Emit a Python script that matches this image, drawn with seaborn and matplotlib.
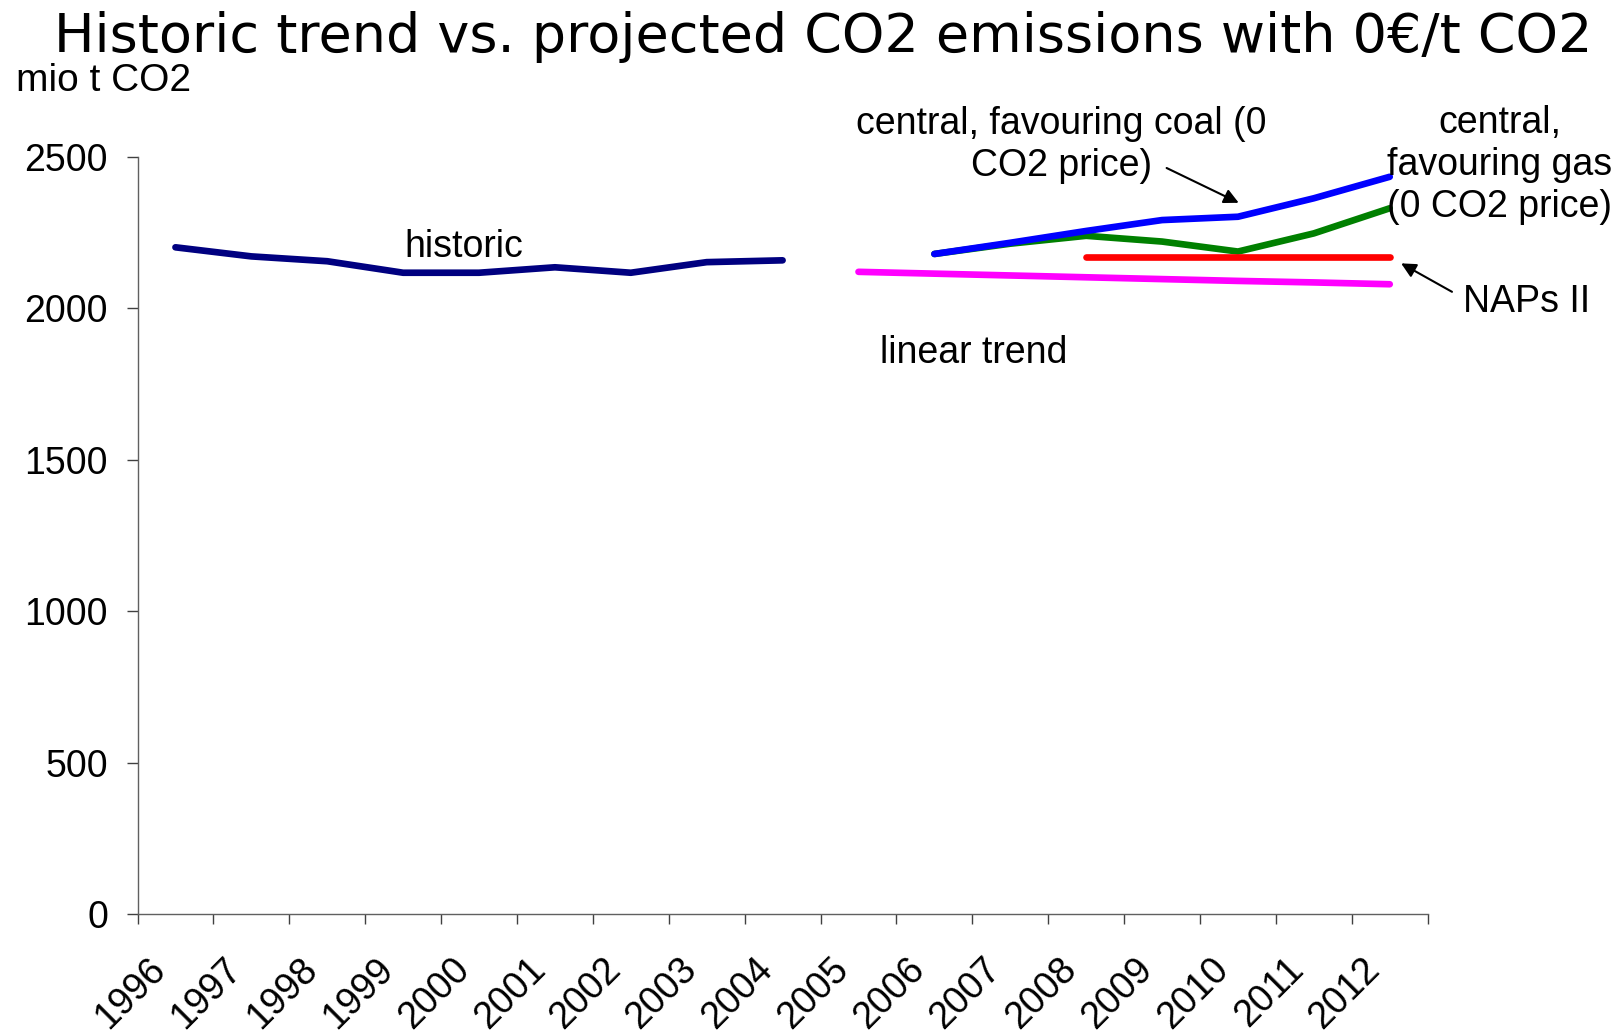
import numpy as np
import pandas as pd
import matplotlib
matplotlib.use("Agg")
import matplotlib.pyplot as plt
from matplotlib.transforms import ScaledTranslation
import seaborn as sns

# ---- data ----
years = list(range(1996, 2013))
year_labels = [str(y) for y in years]

hist_years = [1996, 1997, 1998, 1999, 2000, 2001, 2002, 2003, 2004]
hist_values = [2202, 2172, 2156, 2118, 2118, 2136, 2118, 2153, 2159]

trend_years = [2005, 2006, 2007, 2008, 2009, 2010, 2011, 2012]
trend_values = [2121, 2115, 2109, 2103, 2097, 2091, 2086, 2080]

coal_years = [2006, 2007, 2008, 2009, 2010, 2011, 2012]
coal_values = [2180, 2217, 2256, 2292, 2303, 2364, 2435]

gas_years = [2006, 2007, 2008, 2009, 2010, 2011, 2012]
gas_values = [2180, 2214, 2240, 2221, 2188, 2248, 2331]

nap_years = [2008, 2009, 2010, 2011, 2012]
nap_values = [2169, 2169, 2169, 2169, 2169]

series_names = ["historic", "linear trend", "gas", "coal", "NAPs II"]
series_colors = ["#000080", "#FF00FF", "#008000", "#0000FF", "#FF0000"]
y_ticks = [0, 500, 1000, 1500, 2000, 2500]

frames = []
for name, xs, vs in [("historic", hist_years, hist_values),
                     ("linear trend", trend_years, trend_values),
                     ("gas", gas_years, gas_values),
                     ("coal", coal_years, coal_values),
                     ("NAPs II", nap_years, nap_values)]:
    frames.append(pd.DataFrame({"year": xs, "value": vs, "series": name}))
df = pd.concat(frames, ignore_index=True)

# ---- style ----
sns.set_style("white")
plt.rcParams["font.family"] = ["Liberation Sans", "DejaVu Sans"]
plt.rcParams["text.color"] = "black"
plt.rcParams["xtick.color"] = "black"
plt.rcParams["ytick.color"] = "black"
plt.rcParams["axes.labelcolor"] = "black"

FS = 27
W, H, DPI = 1621, 1032, 100
fig = plt.figure(figsize=(W / DPI, H / DPI), dpi=DPI)
ax = fig.add_axes([137.5 / W, 1 - 913.9 / H, (1427.7 - 137.5) / W, (913.9 - 157.1) / H])

sns.lineplot(data=df, x="year", y="value", hue="series", hue_order=series_names,
             palette=series_colors, linewidth=4.8, estimator=None, legend=False,
             ax=ax, solid_capstyle="round")

ax.set_xlim(1995.5, 2012.5)
ax.set_ylim(0, 2500)
ax.set_xlabel("")
ax.set_ylabel("")

for s in ["top", "right"]:
    ax.spines[s].set_visible(False)
for s in ["left", "bottom"]:
    ax.spines[s].set_color("#606060")
    ax.spines[s].set_linewidth(1.0)

ax.set_yticks(y_ticks)
ax.set_yticklabels([str(v) for v in y_ticks], fontsize=FS)
ax.tick_params(axis="y", direction="out", length=7.7, width=1, color="#404040", pad=13.5, left=True)

# category boundaries as major ticks, labels at centers as minor ticks
ax.set_xticks([y - 0.5 for y in years] + [years[-1] + 0.5])
ax.set_xticklabels([])
ax.set_xticks(years, minor=True)
ax.set_xticklabels(year_labels, minor=True, rotation=45, ha="right", va="top",
                   rotation_mode="anchor", fontsize=FS)
ax.tick_params(axis="x", which="major", direction="out", length=7.5, width=1, color="#404040", bottom=True)
ax.tick_params(axis="x", which="minor", length=0, pad=27, bottom=True)
for lbl in ax.get_xticklabels(minor=True):
    lbl.set_transform(lbl.get_transform() + ScaledTranslation(-0.28, 0, fig.dpi_scale_trans))

# ---- texts ----
fig.text(823 / W, 1 - 51.7 / H, "Historic trend vs. projected CO2 emissions with 0€/t CO2",
         ha="center", va="baseline", fontsize=38.9, family=["DejaVu Sans"])
fig.text(15.5 / W, 1 - 91 / H, "mio t CO2", ha="left", va="baseline", fontsize=28)

ax.text(1999.8, 2203, "historic", ha="center", va="center", fontsize=FS)
ax.text(2006.52, 1852, "linear trend", ha="center", va="center", fontsize=FS)
ax.text(2007.67, 2540, "central, favouring coal (0\nCO2 price)", ha="center", va="center",
        fontsize=FS, clip_on=False)
ax.text(2013.45, 2474, "central,\nfavouring gas\n(0 CO2 price)", ha="center", va="center",
        fontsize=FS, clip_on=False)
ax.text(2013.8, 2022, "NAPs II", ha="center", va="center", fontsize=FS, clip_on=False)

ax.annotate("", xy=(2010.01, 2349), xytext=(2009.06, 2464),
            arrowprops=dict(arrowstyle="-|>", color="black", lw=1.5, mutation_scale=22,
                            shrinkA=0, shrinkB=0), annotation_clip=False)
ax.annotate("", xy=(2012.15, 2149), xytext=(2012.82, 2055),
            arrowprops=dict(arrowstyle="-|>", color="black", lw=1.5, mutation_scale=22,
                            shrinkA=0, shrinkB=0), annotation_clip=False)

fig.savefig("out.png", dpi=DPI)
